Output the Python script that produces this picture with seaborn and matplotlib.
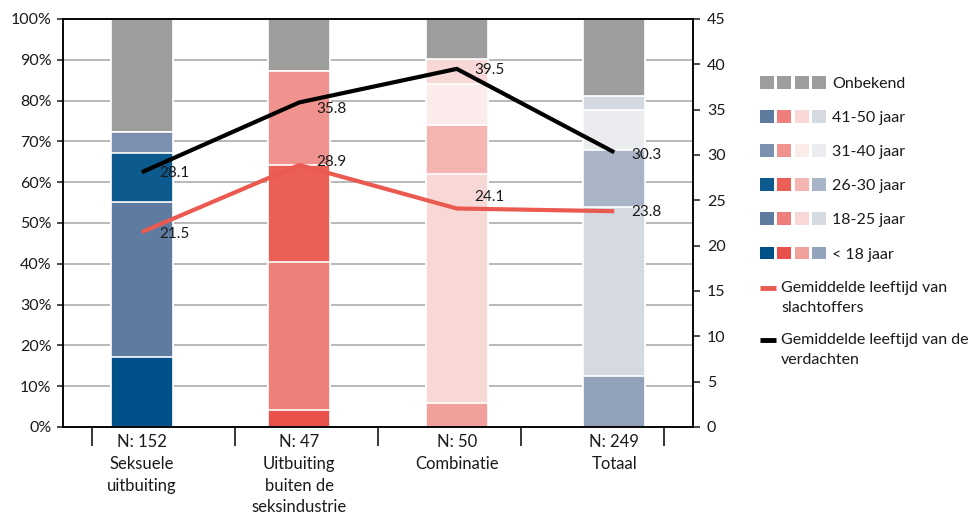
import numpy as np
import pandas as pd
import matplotlib
matplotlib.use("Agg")
import matplotlib.pyplot as plt
from matplotlib.patches import Patch
from matplotlib.lines import Line2D
from matplotlib.legend_handler import HandlerTuple, HandlerLine2D
import seaborn as sns

# gegevens
categorieen = ["N: 152\nSeksuele\nuitbuiting",
               "N: 47\nUitbuiting\nbuiten de\nseksindustrie",
               "N: 50\nCombinatie",
               "N: 249\nTotaal"]
leeftijdsgroepen = ["< 18 jaar", "18-25 jaar", "26-30 jaar", "31-40 jaar", "41-50 jaar", "Onbekend"]
pct_onder_18 = [17.2, 4.2, 5.8, 12.5]
pct_18_25 = [37.9, 36.2, 56.2, 41.5]
pct_26_30 = [12.1, 23.7, 11.9, 13.9]
pct_31_40 = [5.2, 23.2, 10.2, 9.8]
pct_41_50 = [0.0, 0.0, 6.0, 3.4]
pct_onbekend = [27.6, 12.7, 9.9, 18.9]
gem_leeftijd_slachtoffers = [21.5, 28.9, 24.1, 23.8]
gem_leeftijd_verdachten = [28.1, 35.8, 39.5, 30.3]

# kleuren per leeftijdsgroep, een per kolom
kleuren = {
    "< 18 jaar": ["#00508a", "#e8524a", "#f2a09c", "#92a2ba"],
    "18-25 jaar": ["#5e7ba0", "#ef7f7a", "#f8d8d7", "#d5dae2"],
    "26-30 jaar": ["#0d5a8e", "#eb5f57", "#f5b6b3", "#a9b4c6"],
    "31-40 jaar": ["#7b8fae", "#f0928d", "#fbeceb", "#eaecf0"],
    "41-50 jaar": ["#5e7ba0", "#ef7f7a", "#f8d8d7", "#d5dae2"],
    "Onbekend": ["#9d9d9c"] * 4,
}
rood = "#ea5a50"
zwart = "#000000"

sns.set_style("white")
plt.rcParams["font.family"] = ["Lato", "DejaVu Sans"]

df = pd.DataFrame({
    "< 18 jaar": pct_onder_18,
    "18-25 jaar": pct_18_25,
    "26-30 jaar": pct_26_30,
    "31-40 jaar": pct_31_40,
    "41-50 jaar": pct_41_50,
    "Onbekend": pct_onbekend,
}, index=categorieen)
cum = df.cumsum(axis=1)

fig, ax = plt.subplots(figsize=(9.71, 5.14), dpi=100)
fig.subplots_adjust(left=63 / 971, right=693 / 971, bottom=1 - 427 / 514, top=1 - 19 / 514)

# gestapelde kolommen: cumulatief tekenen, hoogste eerst
for groep in reversed(leeftijdsgroepen):
    sns.barplot(x=categorieen, y=cum[groep].values, hue=categorieen,
                palette=dict(zip(categorieen, kleuren[groep])),
                width=0.394, saturation=1, edgecolor="white", linewidth=1.2,
                legend=False, ax=ax)

ax.set_ylim(0, 100)
ax.set_yticks(range(0, 101, 10))
ax.set_yticklabels([f"{v}%" for v in range(0, 101, 10)])
ax.yaxis.grid(True, color="#b3b3b3", linewidth=1.3)
ax.xaxis.grid(False)
ax.set_axisbelow(True)
ax.set_xlabel("")
ax.set_ylabel("")
ax.tick_params(axis="y", left=True, length=4.3, width=1.1, pad=4, labelsize=11.5,
               colors="#1a1a1a")
ax.tick_params(axis="x", which="major", bottom=False, length=0, pad=5, labelsize=12,
               labelcolor="#1a1a1a")
ax.set_xticks(1.5 + 0.9075 * np.arange(-2, 3), minor=True)
ax.tick_params(axis="x", which="minor", bottom=True, length=13.7, width=1.1, color="black")
for lbl in ax.get_xticklabels():
    lbl.set_linespacing(1.45)

# lijnen op tweede as
ax2 = ax.twinx()
xpos = np.arange(len(categorieen))
sns.lineplot(x=xpos, y=gem_leeftijd_slachtoffers, color=rood, linewidth=3.0,
             solid_capstyle="butt", ax=ax2)
sns.lineplot(x=xpos, y=gem_leeftijd_verdachten, color=zwart, linewidth=3.0,
             solid_capstyle="butt", ax=ax2)
ax2.set_ylim(0, 45)
ax2.set_yticks(range(0, 46, 5))
ax2.tick_params(axis="y", right=True, length=5, width=1.1, pad=5, labelsize=11.5,
                colors="#1a1a1a")
ax2.set_ylabel("")

# waardelabels
verschuiving_verdachten = [-0.7, -5, -0.7, -2.2]
verschuiving_slachtoffers = [-1.4, 2.2, 8.6, -0.7]
for x, v, dy in zip(xpos, gem_leeftijd_verdachten, verschuiving_verdachten):
    ax2.annotate(f"{v}", (x, v), xytext=(12.5, dy), textcoords="offset points",
                 va="center", ha="left", fontsize=11, color="#1a1a1a")
for x, v, dy in zip(xpos, gem_leeftijd_slachtoffers, verschuiving_slachtoffers):
    ax2.annotate(f"{v}", (x, v), xytext=(12.5, dy), textcoords="offset points",
                 va="center", ha="left", fontsize=11, color="#1a1a1a")

ax.set_xlim(-0.5, 3.5)
for a in (ax, ax2):
    for sp in a.spines.values():
        sp.set_color("black")
        sp.set_linewidth(1.1)


class HandlerBovensteRegel(HandlerLine2D):
    # legendalijn bij de eerste tekstregel zetten
    def __init__(self, shift, **kw):
        super().__init__(**kw)
        self.shift = shift

    def create_artists(self, legend, orig_handle, xdescent, ydescent, width, height, fontsize, trans):
        artists = super().create_artists(legend, orig_handle, xdescent, ydescent, width, height, fontsize, trans)
        for art in artists:
            art.set_ydata(np.asarray(art.get_ydata()) + self.shift * fontsize)
        return artists


# legenda met blokjes
blok_handles = [tuple(Patch(facecolor=c, edgecolor="none") for c in kleuren[g])
                for g in reversed(leeftijdsgroepen)]
leg1 = fig.legend(blok_handles, list(reversed(leeftijdsgroepen)),
                  handler_map={tuple: HandlerTuple(ndivide=None, pad=0.23)},
                  loc="upper left", bbox_to_anchor=(760 / 971, 1 - 76 / 514),
                  frameon=False, handlelength=4.15, handleheight=0.86,
                  handletextpad=0.37, labelspacing=1.2, borderpad=0,
                  borderaxespad=0, fontsize=11.5)
for t in leg1.get_texts():
    t.set_color("#1a1a1a")

# legenda met lijnen
lijn_handles = [Line2D([], [], color=rood, linewidth=3.5, solid_capstyle="butt"),
                Line2D([], [], color=zwart, linewidth=3.5, solid_capstyle="butt")]
lijn_labels = ["Gemiddelde leeftijd van\nslachtoffers", "Gemiddelde leeftijd van de\nverdachten"]
leg2 = fig.legend(lijn_handles, lijn_labels,
                  handler_map={Line2D: HandlerBovensteRegel(0.62)},
                  loc="upper left", bbox_to_anchor=(760 / 971, 1 - 281 / 514),
                  frameon=False, handlelength=1.0, handletextpad=0.33,
                  labelspacing=1.1, borderpad=0, borderaxespad=0, fontsize=11.5)
for t in leg2.get_texts():
    t.set_color("#1a1a1a")
    t.set_linespacing(1.55)

fig.savefig("out.png", dpi=100)
